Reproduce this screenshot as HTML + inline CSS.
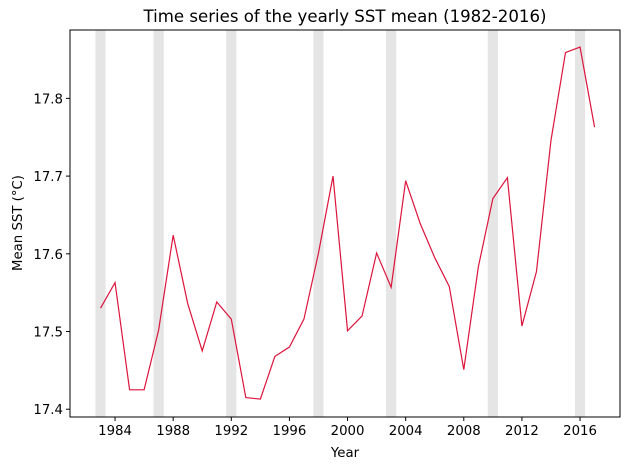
<!DOCTYPE html>
<html><head><meta charset="utf-8"><style>
body{margin:0;background:#fff;}
svg text{font-family:"DejaVu Sans","Liberation Sans",sans-serif;fill:#000;}
</style></head><body>
<svg id="chart" width="630" height="470" xmlns="http://www.w3.org/2000/svg">
<rect width="630" height="470" fill="#fff"/>
<g id="bands"></g>
<g id="series"></g>
<g id="axes"></g>
<text x="345" y="22" font-size="16.6" text-anchor="middle">Time series of the yearly SST mean (1982-2016)</text>
<text x="345" y="457" font-size="13.3" text-anchor="middle">Year</text>
<text x="22" y="223" font-size="13.3" text-anchor="middle" transform="rotate(-90 22 223)">Mean SST (°C)</text>
</svg>
<script>
const years=[1983,1984,1985,1986,1987,1988,1989,1990,1991,1992,1993,1994,1995,1996,1997,1998,1999,2000,2001,2002,2003,2004,2005,2006,2007,2008,2009,2010,2011,2012,2013,2014,2015,2016,2017];
const sstMean=[17.530,17.563,17.425,17.425,17.502,17.624,17.536,17.475,17.538,17.516,17.415,17.413,17.468,17.480,17.516,17.601,17.700,17.501,17.520,17.601,17.557,17.694,17.639,17.595,17.558,17.451,17.583,17.671,17.698,17.507,17.577,17.746,17.859,17.866,17.763];
const bandYears=[1983,1987,1992,1998,2003,2010,2016];
const xTicks=[1984,1988,1992,1996,2000,2004,2008,2012,2016];
const yTicks=[17.4,17.5,17.6,17.7,17.8];
const L=70,R=620,T=30,B=417;
const x0=1980.9,x1=2018.75,y0=17.390,y1=17.888;
const X=v=>L+(v-x0)/(x1-x0)*(R-L);
const Y=v=>B-(v-y0)/(y1-y0)*(B-T);
const NS='http://www.w3.org/2000/svg';
function mk(tag,attrs,parent){const e=document.createElementNS(NS,tag);for(const k in attrs)e.setAttribute(k,attrs[k]);parent.appendChild(e);return e;}
const bands=document.getElementById('bands'),series=document.getElementById('series'),axes=document.getElementById('axes');
bandYears.forEach(yr=>{
  const r=mk('rect',{x:X(yr-0.35),y:T,width:X(yr+0.35)-X(yr-0.35),height:B-T,fill:'#e5e5e5'},bands);
  
  
});
const pl=mk('polyline',{points:years.map((y,i)=>X(y)+','+Y(sstMean[i])).join(' '),fill:'none',stroke:'#dc143c','stroke-width':1.2},series);


const frame=mk('rect',{x:L,y:T,width:R-L,height:B-T,fill:'none',stroke:'#000','stroke-width':1},axes);


xTicks.forEach(t=>{
  mk('line',{x1:X(t),x2:X(t),y1:B,y2:B+4,stroke:'#000'},axes);
  const tx=mk('text',{x:X(t),y:B+18,'font-size':13.3,'text-anchor':'middle'},axes);
  tx.textContent=t;
  
  
});
yTicks.forEach(t=>{
  mk('line',{x1:L-4,x2:L,y1:Y(t),y2:Y(t),stroke:'#000'},axes);
  const tx=mk('text',{x:L-7,y:Y(t)+5,'font-size':13.3,'text-anchor':'end'},axes);
  tx.textContent=t.toFixed(1);
  
  
});
</script>
</body></html>
